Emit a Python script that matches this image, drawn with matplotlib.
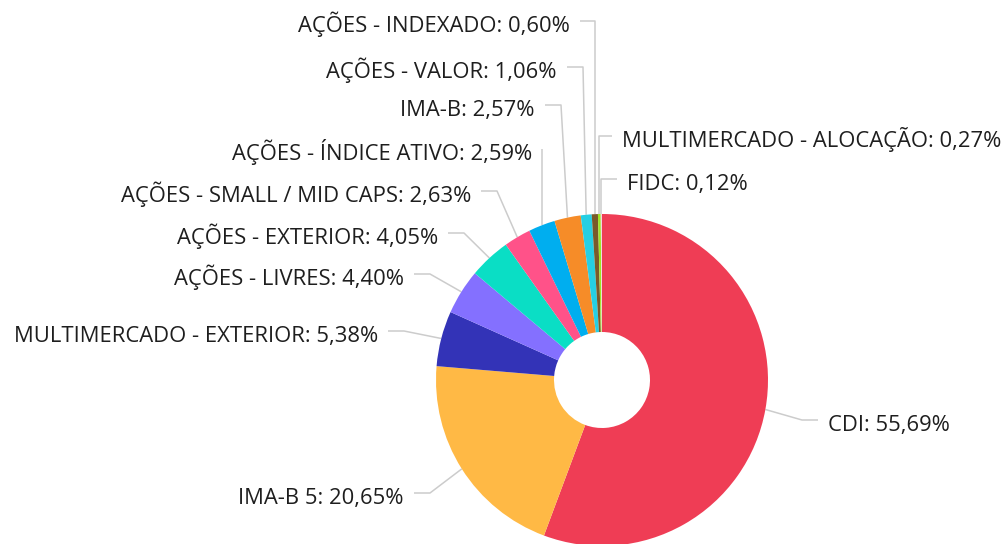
import numpy as np
import matplotlib.pyplot as plt

# data
categories = ["CDI", "IMA-B 5", "MULTIMERCADO - EXTERIOR", "AÇÕES - LIVRES",
              "AÇÕES - EXTERIOR", "AÇÕES - SMALL / MID CAPS", "AÇÕES - ÍNDICE ATIVO",
              "IMA-B", "AÇÕES - VALOR", "AÇÕES - INDEXADO",
              "MULTIMERCADO - ALOCAÇÃO", "FIDC"]
values = [55.69, 20.65, 5.38, 4.40, 4.05, 2.63, 2.59, 2.57, 1.06, 0.60, 0.27, 0.12]
colors = ["#EF3D55", "#FFB945", "#3333B7", "#8470FF", "#0ADEC5", "#FF5289",
          "#00AEEF", "#F68C28", "#26CFE3", "#7A5A2A", "#9CE623", "#F2D7DF"]

# label layout (pixel coords): text anchor x, caps centre y, side
label_x = [828, 404, 378, 404, 438, 471, 532, 535, 557, 570, 622, 627]
label_y = [422, 495, 333, 276, 235, 193, 151, 107, 69, 23, 138, 181]
label_side = ["R", "L", "L", "L", "L", "L", "L", "L", "L", "L", "R", "R"]

W, H = 1003, 544
cx, cy, r_out, r_in = 602, 380, 166, 48

plt.rcParams['font.family'] = ['Open Sans', 'DejaVu Sans']
fig = plt.figure(figsize=(W / 100, H / 100), dpi=100)
ax = fig.add_axes([0, 0, 1, 1])
ax.axis('off')

def Y(p):
    return H - p

ax.pie(values, colors=colors, startangle=90, counterclock=False,
       center=(cx, Y(cy)), radius=r_out,
       wedgeprops=dict(width=r_out - r_in, linewidth=0))
ax.set_xlim(0, W)
ax.set_ylim(0, H)
ax.set_aspect('equal')

# leader lines and labels
total = sum(values)
cum = 0.0
for i, v in enumerate(values):
    mid = (cum + v / 2) / total * 2 * np.pi
    cum += v
    ax_x = cx + r_out * np.sin(mid)
    ax_y = cy - r_out * np.cos(mid)
    ly = label_y[i] - 2
    if label_side[i] == "L":
        end = label_x[i] + 10
        crook = min(label_x[i] + 26, ax_x)
        ha = 'right'
    else:
        end = label_x[i] - 10
        crook = max(label_x[i] - 26, ax_x)
        ha = 'left'
    xs = [end, crook, ax_x]
    ys = [Y(ly), Y(ly), Y(ax_y)]
    ax.plot(xs, ys, color="#cccccc", lw=1.1, solid_capstyle='butt', zorder=0)
    txt = "%s: %s%%" % (categories[i], ("%.2f" % v).replace(".", ","))
    ax.text(label_x[i], Y(label_y[i] + 9), txt, ha=ha, va='baseline',
            fontsize=15.8, color="#1e1e1e")

fig.savefig("out.png", dpi=100)
